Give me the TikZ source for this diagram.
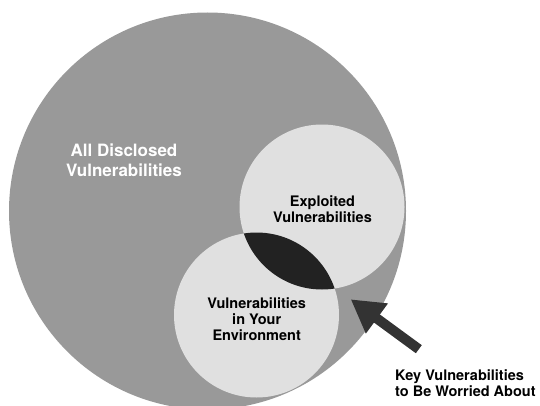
\documentclass[tikz,border=0pt]{standalone}
\usepackage{fontspec}
\setmainfont{TeX Gyre Heros}
\usepackage{tikz}
\usetikzlibrary{arrows.meta}

\definecolor{allgray}{HTML}{999999}
\definecolor{circlegray}{HTML}{E0E0E0}
\definecolor{lensblack}{HTML}{222222}
\definecolor{arrowgray}{HTML}{333333}

\begin{document}
\begin{tikzpicture}[x=1pt, y=1pt,
		txt/.style = {font=\bfseries\fontsize{14.5}{16.3}\selectfont, align=center, anchor=base, inner sep=0pt}]
		%picture frame
		\useasboundingbox (0,0) rectangle (540,405);
		
		%variables
		\def\rA{198.5};
		\def\r{82.5};
		
		%centres of the circles
		\coordinate (A) at (207.5,194);
		\coordinate (E) at (322,198);
		\coordinate (V) at (256.5,90);
		
		%circles
		\fill [allgray] (A) circle [radius = \rA];
		\fill [circlegray] (E) circle [radius = \r];
		\fill [circlegray] (V) circle [radius = \r];
		
		%overlap
		\begin{scope}
			\clip (E) circle [radius = \r];
			\fill [lensblack] (V) circle [radius = \r];
		\end{scope}
		
		%labels (base = last line)
		\node [txt, white, font=\bfseries\fontsize{17}{20}\selectfont] (all) at (124,229) {All Disclosed\\Vulnerabilities};
		\node [txt] (exploited) at (322.5,182.3) {Exploited\\Vulnerabilities};
		\node [txt] (environment) at (256.7,64.3) {Vulnerabilities\\in Your\\Environment};
		\node [txt, align=left, anchor=base west] (key) at (395,8.3) {Key Vulnerabilities\\to Be Worried About};
		
		%pointer
		\coordinate (tail) at (418.8,55.8);
		\coordinate (tip) at (350.7,105.7);
		\draw [arrowgray, line width = 10pt, -{Triangle[width = 35pt, length = 32.5pt]}] (tail) -- (tip);
	\end{tikzpicture}
\end{document}
